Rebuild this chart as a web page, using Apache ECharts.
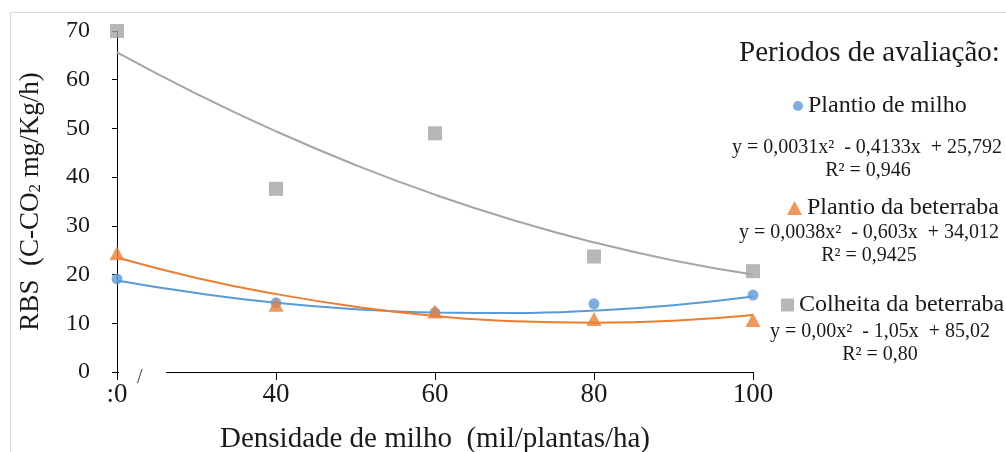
<!DOCTYPE html>
<html lang="pt">
<head>
<meta charset="UTF-8">
<title>RBS</title>
<script src="https://cdn.jsdelivr.net/npm/echarts@6/dist/echarts.min.js"></script>
<style>
  html, body { margin: 0; padding: 0; background: #fff; }
  #main { width: 1006px; height: 452px; }
</style>
</head>
<body>
<div id="main"></div>
<script>
// densities (mil plantas/ha)
var densidade = [20, 40, 60, 80, 100];
var xTickLabels = [':0', '40', '60', '80', '100'];

// observed RBS values
var plantioMilho = [19.1, 14.2, 12.2, 14.0, 15.8];
var plantioBeterraba = [24.4, 13.8, 12.4, 10.9, 10.7];
var colheitaBeterraba = [70.0, 37.6, 49.0, 23.7, 20.7];

// trend lines
var trendX = [20, 30, 40, 50, 60, 70, 80, 90, 100];
var trendMilho = [18.8, 16.2, 14.2, 12.9, 12.2, 12.1, 12.6, 13.7, 15.5];
var trendBeterraba = [23.5, 19.3, 16.0, 13.4, 11.5, 10.4, 10.1, 10.5, 11.7];
var trendColheita = [65.6, 57.1, 49.4, 42.5, 36.4, 31.1, 26.6, 22.9, 20.0];

var nomes = ['Plantio de milho', 'Plantio da beterraba', 'Colheita da beterraba'];
var cores = ['#5B9BD5', '#ED7D31', '#A5A5A5'];
var equacoes = [
    ['y = 0,0031x\u00B2  - 0,4133x  + 25,792', 'R\u00B2 = 0,946'],
    ['y = 0,0038x\u00B2  - 0,603x  + 34,012', 'R\u00B2 = 0,9425'],
    ['y = 0,00x\u00B2  - 1,05x  + 85,02', 'R\u00B2 = 0,80']
];

function pares(xs, ys) {
    return xs.map(function (x, i) { return [x, ys[i]]; });
}

var fonte = '"Liberation Serif", "DejaVu Serif", serif';
var myChart = echarts.init(document.getElementById('main'));

var legendaBase = {
    orient: 'horizontal',
    textStyle: { fontFamily: fonte, fontSize: 24, color: '#1a1a1a' },
    selectedMode: false
};

function eq(txt, x, y) {
    return { type: 'text', x: x, y: y, style: { text: txt, font: '20px ' + fonte, fill: '#1a1a1a', align: 'center', verticalAlign: 'middle' } };
}

option = {
    animation: false,
    backgroundColor: '#fff',
    grid: { left: 117, right: 253, top: 31, bottom: 80, outerBoundsMode: 'none', containLabel: false },
    xAxis: {
        type: 'value',
        min: 20, max: 100, interval: 20,
        name: 'Densidade de milho  (mil/plantas/ha)',
        nameLocation: 'middle',
        nameGap: 53,
        nameTextStyle: { fontFamily: fonte, fontSize: 29, color: '#1a1a1a' },
        axisLine: { show: true, lineStyle: { color: '#000', width: 1 } },
        axisTick: { show: true, inside: false, length: 8, lineStyle: { color: '#000' } },
        axisLabel: {
            margin: 9,
            fontFamily: fonte, fontSize: 27, color: '#1a1a1a',
            formatter: function (v) { return xTickLabels[densidade.indexOf(v)]; }
        },
        splitLine: { show: false }
    },
    yAxis: {
        type: 'value',
        min: 0, max: 70, interval: 10,
        name: 'RBS  (C-CO{sub|2} mg/Kg/h)',
        nameLocation: 'middle',
        nameGap: 73,
        nameTextStyle: {
            fontFamily: fonte, fontSize: 27, color: '#1a1a1a',
            rich: { sub: { fontFamily: fonte, fontSize: 17, color: '#1a1a1a', verticalAlign: 'bottom', padding: [10, 0, 0, 0] } }
        },
        axisLine: { show: true, lineStyle: { color: '#000', width: 1 } },
        axisTick: { show: true, inside: false, length: 5, lineStyle: { color: '#000' } },
        axisLabel: { margin: 27, fontFamily: fonte, fontSize: 24, color: '#1a1a1a' },
        splitLine: { show: false }
    },
    legend: [
        Object.assign({}, legendaBase, { data: [nomes[0]], left: 788, top: 89, icon: 'circle', itemWidth: 10, itemHeight: 10 }),
        Object.assign({}, legendaBase, { data: [nomes[1]], left: 782, top: 191, icon: 'triangle', itemWidth: 15, itemHeight: 14 }),
        Object.assign({}, legendaBase, { data: [nomes[2]], left: 776, top: 288, icon: 'rect', itemWidth: 13, itemHeight: 13 })
    ],
    graphic: [
        { type: 'rect', shape: { x: 10.5, y: 12.5, width: 1000, height: 450 }, style: { fill: null, stroke: '#d9d9d9', lineWidth: 1 }, z: 0, silent: true },
        // axis break on the x axis
        { type: 'rect', shape: { x: 119, y: 368, width: 47, height: 8 }, style: { fill: '#fff' }, z: 100, silent: true },
        { type: 'text', left: 137, top: 368, style: { text: '/', font: '20px ' + fonte, fill: '#333' }, z: 101 },
        { type: 'text', left: 739, top: 39, style: { text: 'Periodos de avaliação:', font: '29px ' + fonte, fill: '#1a1a1a' } },
        eq(equacoes[0][0], 867, 148),
        eq(equacoes[0][1], 868, 171),
        eq(equacoes[1][0], 869, 233),
        eq(equacoes[1][1], 869, 256),
        eq(equacoes[2][0], 880, 332),
        eq(equacoes[2][1], 880, 355)
    ],
    series: [
        { name: 'tend milho', type: 'line', smooth: true, showSymbol: false, silent: true, z: 2,
          lineStyle: { color: cores[0], width: 2 }, data: pares(trendX, trendMilho) },
        { name: 'tend beterraba', type: 'line', smooth: true, showSymbol: false, silent: true, z: 2,
          lineStyle: { color: cores[1], width: 2 }, data: pares(trendX, trendBeterraba) },
        { name: 'tend colheita', type: 'line', smooth: true, showSymbol: false, silent: true, z: 2,
          lineStyle: { color: cores[2], width: 2 }, data: pares(trendX, trendColheita) },
        { name: nomes[0], type: 'scatter', symbol: 'circle', symbolSize: 11, z: 3,
          itemStyle: { color: cores[0] }, data: pares(densidade, plantioMilho) },
        { name: nomes[1], type: 'scatter', symbol: 'triangle', symbolSize: [15, 14], z: 4,
          itemStyle: { color: cores[1] }, data: pares(densidade, plantioBeterraba) },
        { name: nomes[2], type: 'scatter', symbol: 'rect', symbolSize: 14, z: 5,
          itemStyle: { color: cores[2] }, data: pares(densidade, colheitaBeterraba) }
    ]
};

myChart.setOption(option);
window.onresize = myChart.resize;
</script>
</body>
</html>
